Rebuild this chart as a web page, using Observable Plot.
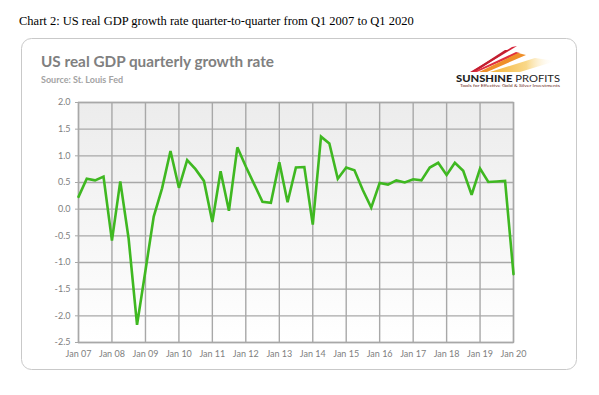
<!DOCTYPE html>
<html><head><meta charset="utf-8">
<script src="https://cdn.jsdelivr.net/npm/d3@7"></script>
<script src="https://cdn.jsdelivr.net/npm/@observablehq/plot@0.6"></script>
<style>
html,body{margin:0;padding:0;background:#fff;}
body{width:599px;height:395px;position:relative;overflow:hidden;}
#deco,#chart{position:absolute;left:0;top:0;}
</style>
</head><body>
<svg id="deco" width="599" height="395" viewBox="0 0 599 395">
  <defs>
    <linearGradient id="ray" x1="0" x2="1" y1="0" y2="0">
      <stop offset="0" stop-color="#f5b335"/>
      <stop offset="0.55" stop-color="#f9d889"/>
      <stop offset="1" stop-color="#ffffff" stop-opacity="0"/>
    </linearGradient>
  </defs>
  <text x="19" y="25" font-family="Liberation Serif" font-size="12.5" fill="#000">Chart 2: US real GDP growth rate quarter-to-quarter from Q1 2007 to Q1 2020</text>
  <rect x="21.5" y="38.5" width="555" height="331" rx="10" fill="#fff" stroke="#c9c9c9" stroke-width="1"/>
  <text x="41" y="67" font-family="Lato" font-weight="bold" font-size="15.3" fill="#808080">US real GDP quarterly growth rate</text>
  <text x="41" y="83" font-family="Lato" font-weight="bold" font-size="9" fill="#a3a3a3">Source: St. Louis Fed</text>
  <g id="logo">
    <polygon points="470,72 512,47 517,46 474,72" fill="#d6243a"/>
    <polygon points="471,72 505,50 509,50 475,72" fill="#c21f30"/>
    <polygon points="473,72 516,52 520,53 477,72" fill="#e0303e"/>
    <polygon points="479,72 518,53 526,55 487,72" fill="#ef8f2a"/>
    <polygon points="490,72 535,58 556,61 520,72" fill="url(#ray)"/>
    <text x="456" y="81.5" font-family="Lato" font-size="10" fill="#1e1e1e" textLength="104" lengthAdjust="spacingAndGlyphs"><tspan font-weight="900">SUNSHINE</tspan> PROFITS</text>
    <text x="460" y="86.5" font-family="Lato" font-size="4.4" fill="#6b2a20" textLength="100" lengthAdjust="spacingAndGlyphs">Tools for Effective Gold &amp; Silver Investments</text>
  </g>
</svg>
<div id="chart"></div>
<script>
const quarters = [
  "2007-01","2007-04","2007-07","2007-10",
  "2008-01","2008-04","2008-07","2008-10",
  "2009-01","2009-04","2009-07","2009-10",
  "2010-01","2010-04","2010-07","2010-10",
  "2011-01","2011-04","2011-07","2011-10",
  "2012-01","2012-04","2012-07","2012-10",
  "2013-01","2013-04","2013-07","2013-10",
  "2014-01","2014-04","2014-07","2014-10",
  "2015-01","2015-04","2015-07","2015-10",
  "2016-01","2016-04","2016-07","2016-10",
  "2017-01","2017-04","2017-07","2017-10",
  "2018-01","2018-04","2018-07","2018-10",
  "2019-01","2019-04","2019-07","2019-10",
  "2020-01"
];
const growth = [
  0.23, 0.57, 0.54, 0.61,
  -0.59, 0.52, -0.55, -2.17,
  -1.15, -0.14, 0.39, 1.09,
  0.40, 0.92, 0.75, 0.53,
  -0.24, 0.71, -0.03, 1.16,
  0.80, 0.47, 0.14, 0.12,
  0.88, 0.13, 0.78, 0.79,
  -0.29, 1.36, 1.23, 0.57,
  0.78, 0.73, 0.36, 0.03,
  0.49, 0.46, 0.54, 0.50,
  0.56, 0.54, 0.78, 0.87,
  0.64, 0.87, 0.72, 0.27,
  0.76, 0.51, 0.52, 0.53,
  -1.22
];
const yTicks = [-2.5, -2.0, -1.5, -1.0, -0.5, 0.0, 0.5, 1.0, 1.5, 2.0];
const xTickYears = ["2007","2008","2009","2010","2011","2012","2013","2014","2015","2016","2017","2018","2019","2020"];

const data = quarters.map((q, i) => ({date: new Date(q + "-01T00:00:00Z"), value: growth[i]}));
const xTicks = xTickYears.map(y => new Date(y + "-01-01T00:00:00Z"));

const chart = Plot.plot({
  width: 599,
  height: 395,
  marginLeft: 78,
  marginRight: 86,
  marginTop: 102,
  marginBottom: 53,
  style: {background: "transparent", fontFamily: "Lato", fontSize: "9px", color: "#808080", overflow: "visible"},
  x: {type: "utc", domain: [xTicks[0], xTicks[xTicks.length - 1]], label: null},
  y: {domain: [-2.5, 2.0], label: null},
  marks: [
    Plot.frame({fill: "url(#plotbg)", stroke: "none"}),
    Plot.gridX(xTicks, {stroke: "#a8a8a8", strokeOpacity: 1, strokeWidth: 1.4}),
    Plot.gridY(yTicks, {stroke: "#a8a8a8", strokeOpacity: 1, strokeWidth: 1.4}),
    Plot.frame({stroke: "#a8a8a8", strokeWidth: 1.4}),
    Plot.axisX(xTicks, {tickSize: 0, tickPadding: 8, tickFormat: d3.utcFormat("%b %y"), fill: "#808080"}),
    Plot.axisY(yTicks, {tickSize: 3, tickPadding: 5, tickFormat: d => d.toFixed(1), stroke: "#a8a8a8", fill: "#808080"}),
    Plot.lineY(data, {x: "date", y: "value", stroke: "#3fb821", strokeWidth: 2.6, strokeLinejoin: "miter", strokeMiterlimit: 3})
  ]
});

const defs = d3.select(chart).insert("defs", ":first-child");
const g = defs.append("linearGradient").attr("id", "plotbg").attr("x1", 0).attr("x2", 0).attr("y1", 0).attr("y2", 1);
g.append("stop").attr("offset", 0).attr("stop-color", "#ececec");
g.append("stop").attr("offset", 1).attr("stop-color", "#ffffff");

document.getElementById("chart").appendChild(chart);
</script>
</body></html>
